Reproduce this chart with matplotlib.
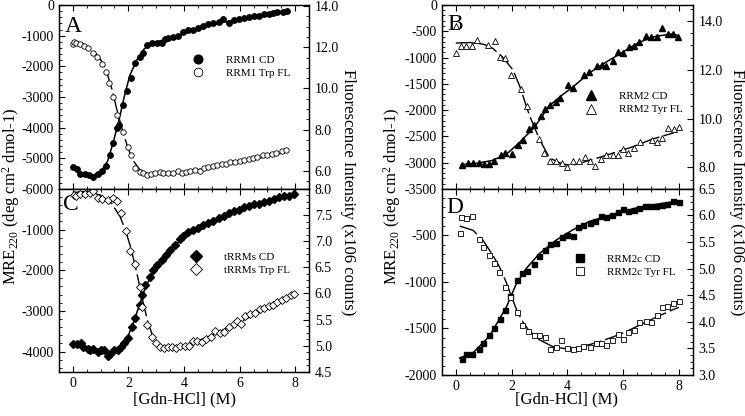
import numpy as np
import matplotlib
matplotlib.use("Agg")
import matplotlib.pyplot as plt
from matplotlib.ticker import AutoMinorLocator, MultipleLocator, FormatStrFormatter

plt.rcParams['font.family'] = ['Liberation Serif', 'DejaVu Serif']
plt.rcParams['mathtext.fontset'] = 'custom'
plt.rcParams['mathtext.rm'] = 'Liberation Serif'
plt.rcParams['axes.unicode_minus'] = False
plt.rcParams['axes.linewidth'] = 0.9

# ---- panel A: RRM1 ----
a_x = [0, 0.17, 0.26, 0.44, 0.6, 0.74, 0.92, 1.04, 1.2, 1.34, 1.46, 1.58, 1.67, 1.8, 1.94,
       2.1, 2.24, 2.4, 2.54, 2.66, 2.84, 3.02, 3.2, 3.32, 3.44, 3.62, 3.77, 3.98, 4.14, 4.32,
       4.52, 4.7, 4.88, 5.06, 5.24, 5.4, 5.6, 5.78, 5.96, 6.14, 6.32, 6.5, 6.68, 6.86, 7.04,
       7.2, 7.36, 7.55, 7.7]
a_cd = [-5290, -5340, -5510, -5510, -5560, -5620, -5510, -5420, -5260, -4910, -4490, -4010,
        -3930, -3270, -2800, -2380, -1890, -1690, -1560, -1290, -1250, -1230, -1230, -1120,
        -1070, -1060, -1010, -870, -820, -820, -740, -690, -630, -600, -570, -460, -580, -490,
        -470, -440, -380, -350, -350, -290, -290, -250, -240, -220, -200]
a_cd_fit_x = [0, 0.4, 0.7, 1.0, 1.25, 1.45, 1.65, 1.85, 2.05, 2.3, 2.55, 2.8, 3.1, 3.6, 4.2,
              5.0, 6.0, 7.0, 7.7]
a_cd_fit = [-5350, -5500, -5560, -5450, -5100, -4500, -3800, -3000, -2300, -1800, -1450,
            -1270, -1180, -1050, -870, -650, -450, -280, -180]
af_x = [0, 0.04, 0.12, 0.26, 0.4, 0.56, 0.74, 0.88, 1.04, 1.19, 1.32, 1.46, 1.6, 1.8, 1.97,
        2.1, 2.24, 2.4, 2.52, 2.66, 2.81, 2.96, 3.12, 3.26, 3.44, 3.6, 3.78, 3.92, 4.08, 4.22,
        4.4, 4.56, 4.72, 4.88, 5.06, 5.2, 5.36, 5.52, 5.66, 5.84, 6.0, 6.14, 6.32, 6.48, 6.64,
        6.84, 6.98, 7.16, 7.32, 7.52, 7.68]
af_fl = [12.14, 12.27, 12.19, 12.16, 12.06, 11.95, 11.74, 11.51, 11.17, 10.82, 10.25, 9.6,
         8.72, 7.91, 7.18, 6.78, 6.13, 5.97, 5.89, 5.81, 5.86, 5.89, 5.94, 5.89, 5.89, 5.92,
         5.99, 5.92, 5.97, 6.0, 6.05, 6.02, 6.13, 6.18, 6.26, 6.29, 6.33, 6.34, 6.41, 6.44,
         6.49, 6.54, 6.58, 6.62, 6.7, 6.78, 6.76, 6.83, 6.89, 6.99, 7.02]
af_fit_x = [0, 0.4, 0.8, 1.0, 1.2, 1.4, 1.6, 1.8, 2.0, 2.2, 2.4, 2.6, 2.8, 3.0, 3.5, 4, 5, 6, 7, 7.7]
af_fit = [12.3, 12.15, 11.75, 11.4, 10.9, 10.0, 8.9, 7.9, 7.05, 6.45, 6.08, 5.92, 5.87, 5.87,
          5.9, 5.97, 6.18, 6.43, 6.7, 6.92]

# ---- panel B: RRM2 ----
b_x = [0.24, 0.44, 0.62, 0.82, 1.01, 1.21, 1.37, 1.61, 1.75, 2.01, 2.23, 2.4, 2.62, 2.82,
       3.04, 3.21, 3.39, 3.6, 3.74, 4.01, 4.19, 4.61, 4.79, 5.08, 5.23, 5.38, 5.62, 5.82,
       6.01, 6.21, 6.39, 6.57, 6.81, 6.99, 7.23, 7.38, 7.62, 7.8, 7.98]
b_cd = [-3054, -3010, -3004, -3010, -3035, -3035, -2972, -2864, -2814, -2833, -2674, -2579,
        -2357, -2280, -2117, -1977, -1901, -1838, -1762, -1521, -1584, -1331, -1267, -1153,
        -1141, -1166, -1058, -887, -913, -805, -773, -710, -583, -615, -615, -444, -551,
        -551, -615]
b_cd_fit_x = [0.2, 0.8, 1.3, 1.8, 2.3, 2.82, 3.36, 3.8, 4.19, 4.79, 5.38, 5.98, 6.57, 7.17,
              7.76, 7.98]
b_cd_fit = [-3040, -3010, -2960, -2850, -2610, -2326, -1914, -1720, -1565, -1293, -1090,
            -900, -710, -596, -551, -583]
bf_x = [0.02, 0.02, 0.2, 0.38, 0.58, 0.77, 1.15, 1.39, 1.57, 1.77, 1.99, 2.35, 2.56, 2.98,
        3.18, 3.38, 3.6, 3.81, 3.99, 4.19, 4.43, 4.63, 4.81, 5.0, 5.2, 5.38, 5.62, 5.83, 5.98,
        6.19, 6.39, 6.61, 7.02, 7.23, 7.4, 7.61, 7.82, 8.0]
bf_fl = [13.78, 12.69, 12.98, 12.98, 12.98, 13.24, 13.02, 13.17, 12.51, 12.47, 11.79, 11.2,
         10.51, 9.16, 8.61, 8.28, 8.25, 8.19, 8.0, 8.28, 8.28, 8.41, 8.28, 8.06, 8.36, 8.49,
         8.52, 8.49, 8.77, 8.58, 8.8, 9.03, 9.14, 9.03, 9.19, 9.61, 9.59, 9.64]
bf_fit_x = [0, 0.5, 1.0, 1.33, 1.69, 2.05, 2.29, 2.64, 3.0, 3.36, 3.83, 4.19, 4.9, 5.62, 6.33,
            7.05, 7.82]
bf_fit = [13.1, 13.12, 13.05, 12.88, 12.51, 12.0, 11.34, 10.14, 9.16, 8.39, 8.13, 8.09, 8.32,
          8.58, 8.84, 9.16, 9.42]

# ---- panel C: tRRMs ----
c_x = [0, 0.17, 0.29, 0.38, 0.53, 0.62, 0.74, 0.89, 1.0, 1.14, 1.25, 1.34, 1.49, 1.61, 1.73,
       1.85, 1.98, 2.12, 2.24, 2.4, 2.48, 2.6, 2.76, 2.9, 3.04, 3.2, 3.35, 3.5, 3.68, 3.86,
       3.98, 4.16, 4.34, 4.52, 4.7, 4.88, 5.06, 5.24, 5.42, 5.6, 5.78, 5.96, 6.14, 6.32, 6.5,
       6.68, 6.86, 7.04, 7.22, 7.4, 7.58, 7.76, 7.94]
c_cd = [-3810, -3810, -3800, -3880, -3930, -3970, -3940, -4000, -3960, -3970, -4100, -4060,
        -3970, -3960, -3880, -3780, -3660, -3390, -3180, -2860, -2610, -2370, -2170, -2000,
        -1860, -1740, -1620, -1500, -1370, -1230, -1170, -1050, -1010, -960, -900, -850, -780,
        -720, -660, -600, -540, -520, -450, -410, -370, -360, -330, -310, -250, -210, -170,
        -170, -130]
c_cd_fit_x = [0, 0.5, 1.0, 1.3, 1.6, 1.8, 2.0, 2.2, 2.4, 2.6, 2.8, 3.0, 3.4, 3.8, 4.2, 5, 6, 7, 8]
c_cd_fit = [-3850, -3920, -3980, -4020, -3950, -3820, -3600, -3250, -2850, -2450, -2150,
            -1920, -1600, -1300, -1080, -800, -520, -300, -120]
cf_x = [0.04, 0.13, 0.26, 0.44, 0.62, 0.74, 0.89, 1.04, 1.25, 1.46, 1.6, 1.73, 1.91, 2.06,
        2.22, 2.4, 2.5, 2.66, 2.84, 3.0, 3.14, 3.29, 3.42, 3.56, 3.72, 3.86, 4.02, 4.17, 4.34,
        4.48, 4.64, 4.8, 4.96, 5.12, 5.28, 5.42, 5.6, 5.78, 5.9, 6.04, 6.2, 6.38, 6.56, 6.72,
        6.86, 7.04, 7.2, 7.36, 7.52, 7.68, 7.84, 7.96]
cf_fl = [7.89, 7.87, 7.90, 7.91, 7.93, 7.95, 7.83, 7.8, 7.78, 7.83, 7.77, 7.53, 7.2, 6.82,
         6.56, 6.13, 5.75, 5.40, 5.17, 5.05, 4.98, 4.96, 4.98, 4.97, 4.96, 4.99, 5.0, 5.0,
         5.1, 5.1, 5.08, 5.13, 5.16, 5.29, 5.24, 5.27, 5.35, 5.41, 5.48, 5.41, 5.57, 5.6,
         5.63, 5.7, 5.73, 5.76, 5.78, 5.83, 5.87, 5.92, 5.98, 5.99]
cf_fit_x = [0, 0.5, 1.0, 1.4, 1.7, 1.9, 2.1, 2.3, 2.5, 2.7, 2.9, 3.1, 3.4, 3.8, 4.2, 5, 6, 7, 8]
cf_fit = [7.93, 7.95, 7.88, 7.72, 7.47, 7.2, 6.85, 6.4, 5.9, 5.45, 5.15, 5.0, 4.95, 4.97,
          5.03, 5.2, 5.45, 5.72, 6.0]

# ---- panel D: RRM2c ----
d_x = [0.24, 0.38, 0.58, 0.82, 0.98, 1.19, 1.37, 1.57, 1.77, 1.96, 2.19, 2.38, 2.56, 2.8,
       2.98, 3.2, 3.39, 3.6, 3.8, 3.99, 4.19, 4.37, 4.58, 4.81, 5.0, 5.2, 5.38, 5.6, 5.8, 6.0,
       6.19, 6.39, 6.57, 6.79, 6.96, 7.19, 7.38, 7.58, 7.8, 8.0]
d_cd = [-1830, -1775, -1775, -1717, -1656, -1572, -1500, -1402, -1304, -1149, -985, -906,
        -884, -812, -725, -659, -598, -580, -514, -496, -507, -406, -388, -362, -351, -297,
        -304, -279, -254, -217, -243, -225, -207, -181, -181, -181, -178, -159, -134, -141]
d_cd_fit_x = [0.14, 0.62, 1.21, 1.81, 2.17, 2.52, 3.0, 3.6, 4.19, 4.79, 5.38, 5.98, 6.57,
              7.17, 7.76, 8.0]
d_cd_fit = [-1819, -1764, -1583, -1275, -1022, -859, -696, -551, -442, -351, -297, -243,
            -199, -167, -141, -134]
df_x = [0.14, 0.2, 0.38, 0.6, 0.82, 0.98, 1.19, 1.37, 1.55, 1.77, 1.96, 2.19, 2.38, 2.58,
        2.8, 3.0, 3.2, 3.39, 3.6, 3.77, 3.99, 4.19, 4.37, 4.58, 4.81, 5.02, 5.2, 5.38, 5.6,
        5.8, 5.98, 6.19, 6.39, 6.57, 6.81, 7.01, 7.2, 7.4, 7.58, 7.8, 8.0]
df_fl = [5.66, 5.97, 5.96, 5.99, 5.56, 5.41, 5.25, 5.11, 4.93, 4.66, 4.46, 4.19, 3.94, 3.82,
         3.75, 3.75, 3.72, 3.49, 3.52, 3.66, 3.51, 3.49, 3.51, 3.54, 3.53, 3.6, 3.6, 3.57,
         3.65, 3.77, 3.68, 3.81, 3.85, 4.0, 4.01, 4.0, 4.12, 4.28, 4.29, 4.36, 4.39]
df_fit_x = [0.14, 0.62, 0.98, 1.33, 1.57, 1.81, 2.0, 2.2, 2.4, 2.6, 3.0, 3.48, 3.95, 4.43,
            5.02, 5.62, 6.1, 6.57, 7.17, 7.76, 8.0]
df_fit = [5.8, 5.72, 5.53, 5.25, 5.03, 4.74, 4.47, 4.2, 4.0, 3.85, 3.66, 3.53, 3.49, 3.52,
          3.6, 3.71, 3.81, 3.93, 4.08, 4.22, 4.27]

fig = plt.figure(figsize=(7.45, 4.16), dpi=100)


def draw_panel(rect, letter, letter_xy, cd_x, cd_y, cd_fx, cd_fy, fl_x, fl_y, fl_fx, fl_fy,
               marker, ms, names, ylim_l, yticks_l, ylim_r, yticks_r, leg_xy, bottom):
    ax = fig.add_axes(rect)
    ax2 = ax.twinx()

    ax.plot(cd_fx, cd_fy, color='black', lw=1.1)
    h1, = ax.plot(cd_x, cd_y, ls='none', marker=marker, ms=ms, color='black', label=names[0])
    ax2.plot(fl_fx, fl_fy, color='black', lw=1.0, ls=(0, (14, 3)))
    h2, = ax2.plot(fl_x, fl_y, ls='none', marker=marker, ms=ms, mfc='white', mec='black',
                   mew=0.6, label=names[1])

    ax.set_xlim(-0.5, 8.5)
    ax.set_ylim(*ylim_l)
    ax2.set_ylim(*ylim_r)
    ax.set_xticks([0, 2, 4, 6, 8])
    ax.xaxis.set_minor_locator(MultipleLocator(0.5))
    ax.set_yticks(yticks_l)
    ax.yaxis.set_minor_locator(AutoMinorLocator(5))
    ax2.set_yticks(yticks_r)
    ax2.yaxis.set_major_formatter(FormatStrFormatter('%.1f'))
    ax2.yaxis.set_minor_locator(AutoMinorLocator(4))

    ax.tick_params(which='both', direction='in', top=True, right=False, labelsize=10,
                   labelbottom=bottom)
    ax.tick_params(which='major', length=4.5, width=0.8)
    ax.tick_params(which='minor', length=2.5, width=0.6)
    ax2.tick_params(which='both', direction='in', labelsize=10, pad=4)
    ax2.tick_params(which='major', length=4.5, width=0.8)
    ax2.tick_params(which='minor', length=2.5, width=0.6)

    ax.text(letter_xy[0], letter_xy[1], letter, transform=ax.transAxes, fontsize=17,
            va='baseline', ha='left')

    ax2.legend(handles=[h1, h2], loc='center left', bbox_to_anchor=leg_xy, frameon=False,
               fontsize=8, markerscale=1.6, handlelength=1.0, handletextpad=2.0,
               labelspacing=0.3, borderpad=0, borderaxespad=0)
    return ax, ax2


draw_panel([0.079, 0.546, 0.336, 0.442], 'A', (0.024, 0.853),
           a_x, a_cd, a_cd_fit_x, a_cd_fit, af_x, af_fl, af_fit_x, af_fit,
           'o', 3.9, ['RRM1 CD', 'RRM1 Trp FL'],
           (-6000, 0), [-6000, -5000, -4000, -3000, -2000, -1000, 0],
           (5.13, 14.05), [6, 8, 10, 12, 14], (0.535, 0.666), False)

draw_panel([0.079, 0.106, 0.336, 0.44], 'C', (0.016, 0.885),
           c_x, c_cd, c_cd_fit_x, c_cd_fit, cf_x, cf_fl, cf_fit_x, cf_fit,
           'D', 3.6, ['tRRMs CD', 'tRRMs Trp FL'],
           (-4500, 0), [-4000, -3000, -2000, -1000],
           (4.5, 8.0), [4.5, 5.0, 5.5, 6.0, 6.5, 7.0, 7.5, 8.0], (0.527, 0.593), True)

draw_panel([0.593, 0.546, 0.337, 0.442], 'B', (0.024, 0.864),
           b_x, b_cd, b_cd_fit_x, b_cd_fit, bf_x, bf_fl, bf_fit_x, bf_fit,
           '^', 4.2, ['RRM2 CD', 'RRM2 Tyr FL'],
           (-3500, 0), [-3500, -3000, -2500, -2000, -1500, -1000, -500, 0],
           (7.12, 14.66), [8, 10, 12, 14], (0.574, 0.467), False)

draw_panel([0.593, 0.099, 0.337, 0.447], 'D', (0.02, 0.871),
           d_x, d_cd, d_cd_fit_x, d_cd_fit, df_x, df_fl, df_fit_x, df_fit,
           's', 3.6, ['RRM2c CD', 'RRM2c Tyr FL'],
           (-2000, 0), [-2000, -1500, -1000, -500],
           (3.0, 6.5), [3.0, 3.5, 4.0, 4.5, 5.0, 5.5, 6.0, 6.5], (0.527, 0.586), True)

ylab = r'MRE$\mathregular{_{220}}$ (deg cm$\mathregular{^{2}}$ dmol-1)'
flab = 'Fluorescence Intensity (x106 counts)'
for xl, xr, xc in [(0.015, 0.467, 0.248), (0.526, 0.989, 0.761)]:
    fig.text(xl, 0.529, ylab, rotation=90, ha='center', va='center', fontsize=12)
    fig.text(xr, 0.538, flab, rotation=270, ha='center', va='center', fontsize=12)
    fig.text(xc, 0.040, '[Gdn-HCl] (M)', ha='center', va='center', fontsize=12)

fig.savefig('out.png', dpi=100)
